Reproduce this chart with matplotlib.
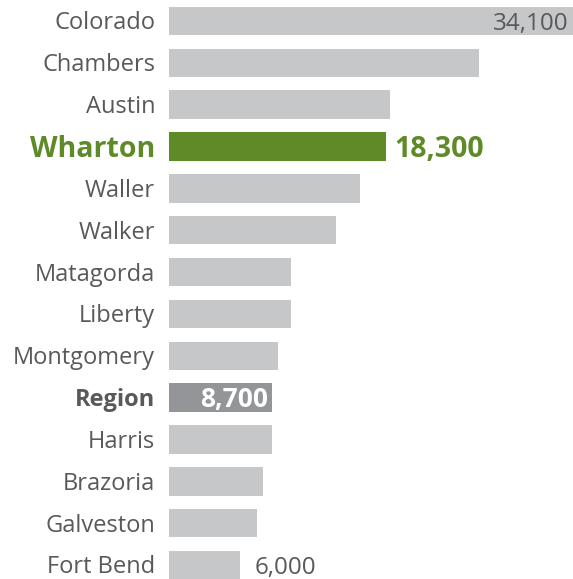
import matplotlib
matplotlib.use("Agg")
import matplotlib.pyplot as plt

counties = ["Colorado", "Chambers", "Austin", "Wharton", "Waller", "Walker",
            "Matagorda", "Liberty", "Montgomery", "Region", "Harris",
            "Brazoria", "Galveston", "Fort Bend"]
values = [34100, 26200, 18700, 18300, 16100, 14100,
          10300, 10300, 9200, 8700, 8700, 7900, 7400, 6000]
# which bars get a printed value
shownValues = {"Colorado": "inside", "Wharton": "outside",
               "Region": "inside", "Fort Bend": "outside"}

barGray = "#c6c7c9"
regionGray = "#939598"
textGray = "#58595b"
green = "#5e8a28"
fontName = "Open Sans"

W, H = 573, 579
fig = plt.figure(figsize=(W / 100, H / 100), dpi=100)
left = 169 / W
right = 572.7 / W
ax = fig.add_axes([left, 0, right - left, 1])
ax.set_xlim(0, max(values))
rowStep = 41.85
ax.set_ylim((H - 21) / rowStep, -21 / rowStep)
ax.axis("off")

pxUnit = max(values) / (right - left) / W   # data units per pixel


def capHalf(size):
    # half the cap height of Open Sans, in rows
    return 0.714 * size * 100 / 72 / 2 / rowStep


for i, (name, v) in enumerate(zip(counties, values)):
    color = barGray
    labelColor = textGray
    weight = "normal"
    size = 17
    valSize = 17.4
    if name == "Wharton":
        color = green
        labelColor = green
        weight = "bold"
        size = 20.5
        valSize = 20.5
    elif name == "Region":
        color = regionGray
        weight = "bold"
        valSize = 19
    ax.barh(i, v, height=0.68, color=color)

    # county name to the left of the bar
    ax.text(-14 * pxUnit, i + capHalf(size), name, ha="right", va="baseline",
            fontsize=size, color=labelColor, fontweight=weight,
            family=fontName, clip_on=False)

    if name in shownValues:
        txt = f"{v:,}"
        if shownValues[name] == "inside":
            tc = "white" if name == "Region" else textGray
            ax.text(v - 4 * pxUnit, i + capHalf(valSize), txt, ha="right",
                    va="baseline", fontsize=valSize, color=tc,
                    fontweight=weight, family=fontName)
        else:
            gap = 9 if name == "Wharton" else 15
            ax.text(v + gap * pxUnit, i + capHalf(valSize), txt, ha="left",
                    va="baseline", fontsize=valSize, color=labelColor,
                    fontweight=weight, family=fontName)

fig.savefig("out.png", dpi=100)
